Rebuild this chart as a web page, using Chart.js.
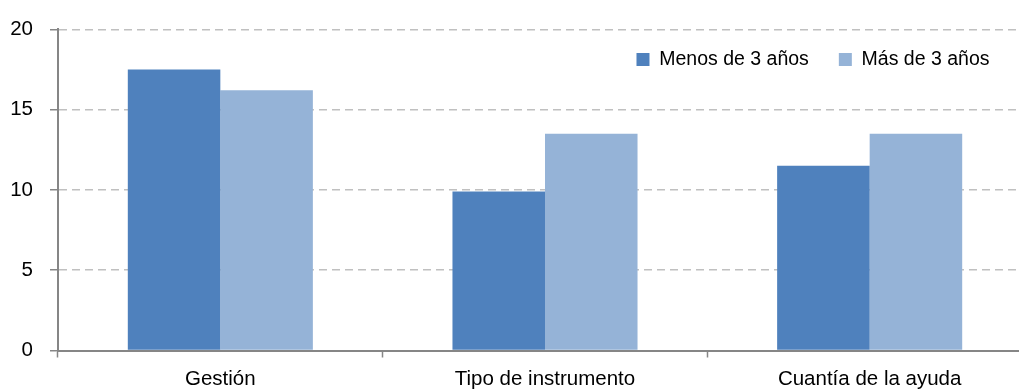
<!DOCTYPE html>
<html>
<head>
<meta charset="utf-8">
<script src="https://cdn.jsdelivr.net/npm/chart.js@4/dist/chart.umd.min.js"></script>
<style>
  html, body { margin: 0; padding: 0; background: #ffffff; overflow: hidden; }
  #wrap { width: 1032px; height: 390px; }
</style>
</head>
<body>
<div id="wrap"><canvas id="c" width="1032" height="390"></canvas></div>
<script>
const categories = ['Gestión', 'Tipo de instrumento', 'Cuantía de la ayuda'];
const seriesNames = ['Menos de 3 años', 'Más de 3 años'];
const menosDe3 = [17.5, 9.9, 11.5];
const masDe3 = [16.2, 13.5, 13.5];
const yTicks = [0, 5, 10, 15, 20];

const FONT = "'Liberation Sans', Arial, Helvetica, sans-serif";

const insideLegend = {
  id: 'insideLegend',
  afterInit(chart) {
    const lg = chart.legend;
    if (!lg) return;
    const orig = lg.update.bind(lg);
    lg.update = function (w, h, m) { orig(w, h, m); this.height = 0; };
  },
  afterLayout(chart) {
    const lg = chart.legend;
    if (!lg) return;
    const pad = lg.options.labels.padding;
    lg.left = 400;
    lg.right = 1019.5;
    lg.top = 49.75 - pad;
    lg.bottom = lg.top + 120;
    lg.width = lg.right - lg.left;
    lg.height = lg.bottom - lg.top;
  }
};

new Chart(document.getElementById('c'), {
  type: 'bar',
  data: {
    labels: categories,
    datasets: [
      { label: seriesNames[0], data: menosDe3, backgroundColor: '#4F81BD', borderWidth: 0 },
      { label: seriesNames[1], data: masDe3, backgroundColor: '#95B3D7', borderWidth: 0 }
    ]
  },
  options: {
    responsive: false,
    animation: false,
    devicePixelRatio: 1,
    layout: { padding: { top: 27, left: 0, right: 0, bottom: 0 } },
    datasets: { bar: { categoryPercentage: 0.57, barPercentage: 1.0 } },
    plugins: {
      legend: {
        display: true,
        position: 'top',
        align: 'end',
        labels: {
          boxWidth: 13,
          boxHeight: 13,
          padding: 30,
          color: '#000000',
          font: { family: FONT, size: 19.5 }
        }
      },
      tooltip: { enabled: false }
    },
    scales: {
      x: {
        afterFit(s) { s.height = 39.5; },
        grid: {
          display: true,
          drawOnChartArea: false,
          drawTicks: true,
          tickLength: 7,
          tickWidth: 1.5,
          tickColor: '#868686',
          offset: true
        },
        border: { display: true, color: '#868686', width: 2 },
        ticks: {
          color: '#000000',
          font: { family: FONT, size: 20.5 },
          padding: 10,
          maxRotation: 0,
          autoSkip: false
        }
      },
      y: {
        min: 0,
        max: 20,
        afterFit(s) { s.width = 58; },
        afterBuildTicks(s) { s.ticks = yTicks.map(v => ({ value: v })); },
        grid: {
          display: true,
          drawOnChartArea: true,
          drawTicks: true,
          tickLength: 8,
          color: '#C0C0C0',
          lineWidth: 1.5,
          tickColor: '#868686',
          tickWidth: 1.5,
          tickBorderDash: []
        },
        border: { display: true, color: '#868686', width: 2, dash: [8, 5] },
        ticks: {
          color: '#000000',
          font: { family: FONT, size: 20.5 },
          padding: 17
        }
      }
    }
  },
  plugins: [insideLegend]
});
</script>
</body>
</html>
